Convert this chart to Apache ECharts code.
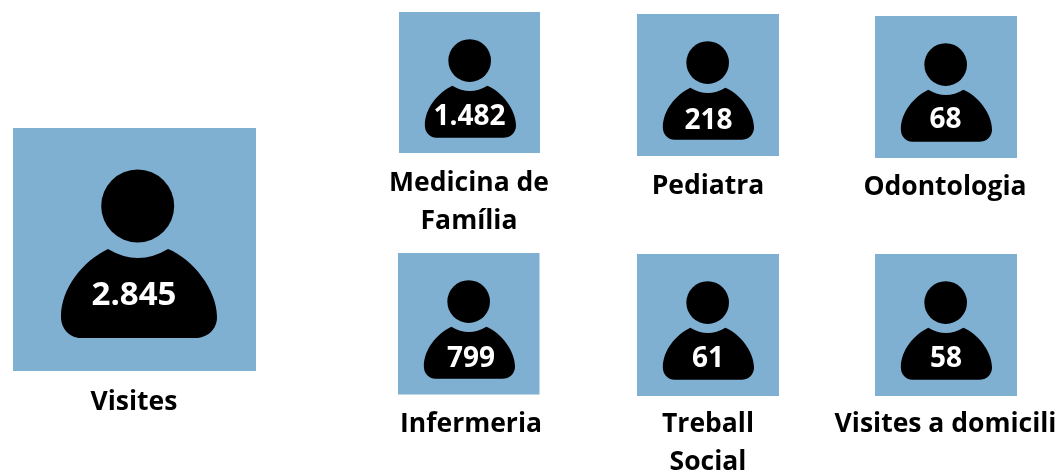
<!DOCTYPE html>
<html>
<head>
<meta charset="utf-8">
<style>html,body{margin:0;padding:0;background:#fff}#c{width:1061px;height:473px}</style>
<script src="https://cdn.jsdelivr.net/npm/echarts@6/dist/echarts.min.js"></script>
</head>
<body>
<div id="c"></div>
<script>
// data
var categories = [['Visites'], ['Medicina de', 'Família'], ['Pediatra'], ['Odontologia'], ['Infermeria'], ['Treball', 'Social'], ['Visites a domicili']];
var values = [2845, 1482, 218, 68, 799, 61, 58];
// layout (px in the page)
var cardLeft = [13, 399, 637, 875, 398, 637, 875];
var cardTop = [128, 12, 14, 16, 253, 254, 254];
var cardSide = [243, 141, 142, 142, 141.5, 142, 142];
var valueCx = [134, 469.5, 708.5, 945.5, 471, 708, 946];
var valueCy = [296, 117, 121, 120, 359, 359, 359];
var labelCx = [134, 469, 708, 945, 471, 708, 945.5];
var labelCy = [402, 183, 186, 187, 424, 424, 424];
var FONT = '"Open Sans", sans-serif';
var BODY = 'M95 121 Q125 139 155 121 C180 131 204 162 204 189 C204 202 194 210 182 210 L68 210 C56 210 48 200 48 189 C48 160 70 133 95 121 Z';

function fmt(v) { return String(v).replace(/\B(?=(\d{3})+$)/g, '.'); }

var rows = values.map(function (v, i) { return [cardLeft[i], cardTop[i], cardSide[i], v, i]; });

var chart = echarts.init(document.getElementById('c'), null, { renderer: 'canvas' });
chart.setOption({
  animation: false,
  backgroundColor: '#fff',
  grid: { left: 0, right: 0, top: 0, bottom: 0 },
  xAxis: { type: 'value', min: 0, max: 1061, show: false },
  yAxis: { type: 'value', min: 0, max: 473, inverse: true, show: false },
  series: [{
    type: 'custom',
    coordinateSystem: 'cartesian2d',
    clip: false,
    silent: true,
    data: rows,
    renderItem: function (params, api) {
      var i = api.value(4);
      var p = api.coord([api.value(0), api.value(1)]);
      var s = api.size([api.value(2), api.value(2)])[0];
      var big = i === 0;
      var k = (big ? 243 : 142) / 243;
      var ox = p[0] + (big ? 0 : -2.2);
      var oy = p[1] + (big ? 0 : 3);
      var valC = api.coord([valueCx[i], valueCy[i]]);
      var children = [
        { type: 'rect', shape: { x: p[0], y: p[1], width: s, height: s }, style: { fill: '#7FAFD1' } },
        { type: 'circle', shape: { cx: ox + 124.7 * k, cy: oy + 78 * k, r: 36.5 * k }, style: { fill: '#000' } },
        { type: 'path', shape: { pathData: BODY, layout: 'cover', x: ox + 48 * k, y: oy + 121 * k, width: 156 * k, height: 89 * k }, style: { fill: '#000' } },
        { type: 'text', style: { text: fmt(values[i]), x: valC[0], y: valC[1], align: 'center', verticalAlign: 'middle', fill: '#fff', font: 'bold ' + (big ? 33 : 28) + 'px ' + FONT } }
      ];
      categories[i].forEach(function (line, j) {
        var c = api.coord([labelCx[i], labelCy[i] + j * 38]);
        children.push({ type: 'text', style: { text: line, x: c[0], y: c[1], align: 'center', verticalAlign: 'middle', fill: '#000', font: 'bold 26.5px ' + FONT } });
      });
      return { type: 'group', children: children };
    }
  }]
});
</script>
</body>
</html>
